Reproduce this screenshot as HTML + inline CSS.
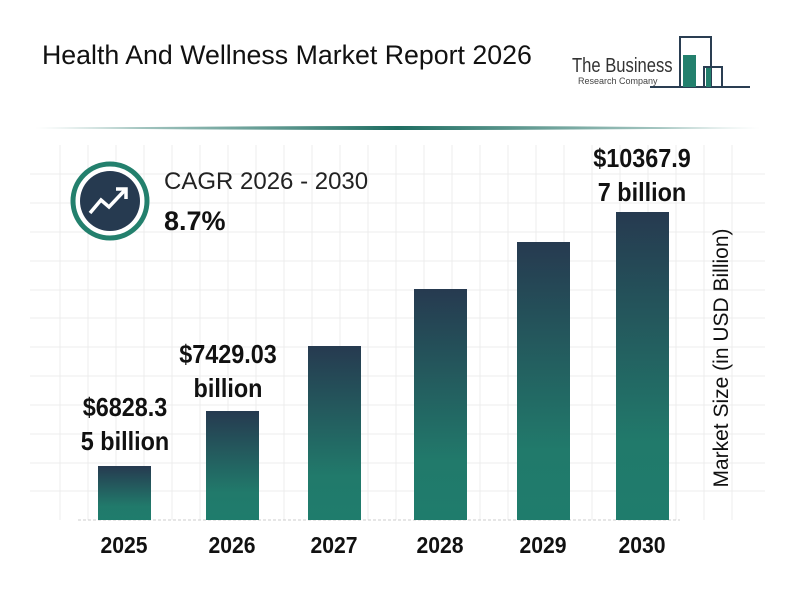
<!DOCTYPE html>
<html><head><meta charset="utf-8"><style>
body{margin:0;background:#fff;width:800px;height:600px;overflow:hidden;position:relative;font-family:"Liberation Sans",sans-serif}
.t{position:absolute;white-space:nowrap}
.bar{position:absolute;width:53px;bottom:80px;background:linear-gradient(#263a50,#217a6b 75%,#1f7c6c)}
.lbl{position:absolute;font-weight:bold;font-size:26px;color:#111;text-align:center;line-height:34px;transform:scaleX(0.9)}
.yr{position:absolute;top:532px;font-weight:bold;font-size:23px;color:#111;width:70px;text-align:center;transform:scaleX(0.92)}
</style></head><body>
<svg width="800" height="600" style="position:absolute;left:0;top:0">
<defs><linearGradient id="hl" x1="0" x2="1"><stop offset="0" stop-color="#2b7a6e" stop-opacity="0.2"/><stop offset="0.5" stop-color="#1f6e62"/><stop offset="1" stop-color="#2b7a6e" stop-opacity="0.2"/></linearGradient></defs>
<path d="M35 128 Q400 124 760 128 Q400 132 35 128Z" fill="url(#hl)"/>
<g stroke="#ececec" stroke-width="1">
<line x1="60" y1="145" x2="60" y2="520"/><line x1="88" y1="145" x2="88" y2="520"/><line x1="116" y1="145" x2="116" y2="520"/><line x1="144" y1="145" x2="144" y2="520"/><line x1="172" y1="145" x2="172" y2="520"/><line x1="200" y1="145" x2="200" y2="520"/><line x1="228" y1="145" x2="228" y2="520"/><line x1="256" y1="145" x2="256" y2="520"/><line x1="284" y1="145" x2="284" y2="520"/><line x1="312" y1="145" x2="312" y2="520"/><line x1="340" y1="145" x2="340" y2="520"/><line x1="368" y1="145" x2="368" y2="520"/><line x1="396" y1="145" x2="396" y2="520"/><line x1="424" y1="145" x2="424" y2="520"/><line x1="452" y1="145" x2="452" y2="520"/><line x1="480" y1="145" x2="480" y2="520"/><line x1="508" y1="145" x2="508" y2="520"/><line x1="536" y1="145" x2="536" y2="520"/><line x1="564" y1="145" x2="564" y2="520"/><line x1="592" y1="145" x2="592" y2="520"/><line x1="620" y1="145" x2="620" y2="520"/><line x1="648" y1="145" x2="648" y2="520"/><line x1="676" y1="145" x2="676" y2="520"/><line x1="704" y1="145" x2="704" y2="520"/><line x1="732" y1="145" x2="732" y2="520"/>
<line x1="30" y1="174" x2="765" y2="174"/><line x1="30" y1="203" x2="765" y2="203"/><line x1="30" y1="232" x2="765" y2="232"/><line x1="30" y1="261" x2="765" y2="261"/><line x1="30" y1="290" x2="765" y2="290"/><line x1="30" y1="318" x2="765" y2="318"/><line x1="30" y1="347" x2="765" y2="347"/><line x1="30" y1="376" x2="765" y2="376"/><line x1="30" y1="405" x2="765" y2="405"/><line x1="30" y1="434" x2="765" y2="434"/><line x1="30" y1="463" x2="765" y2="463"/><line x1="30" y1="491" x2="765" y2="491"/>
</g>
<line x1="78" y1="520" x2="680" y2="520" stroke="#ccc" stroke-dasharray="3,2"/>
<circle cx="110" cy="201" r="37" fill="#fff" stroke="#23806d" stroke-width="5"/>
<circle cx="110" cy="201" r="30" fill="#263a50"/>
<polyline points="90,213 101,200 109,207 125,190" fill="none" stroke="#fff" stroke-width="3.5"/>
<polyline points="116,189 126,189 126,199" fill="none" stroke="#fff" stroke-width="3.5"/>
<g fill="none" stroke="#2a3e52" stroke-width="2">
<polyline points="680,87 680,37 711,37 711,87"/>
<polyline points="704,87 704,67 722,67 722,87 750,87"/>
<line x1="650" y1="87" x2="750" y2="87"/>
</g>
<rect x="683" y="55" width="13" height="32" fill="#23806d"/>
<rect x="706" y="68" width="5" height="19" fill="#23806d"/>
</svg>
<div class="t" style="left:42px;top:40px;font-size:27px;color:#111;transform:scaleX(0.99);transform-origin:left">Health And Wellness Market Report 2026</div>
<div class="t" style="left:572px;top:55px;font-size:20px;color:#333;transform:scaleX(0.83);transform-origin:left">The Business</div>
<div class="t" style="left:578px;top:76px;font-size:9px;color:#444">Research Company</div>
<div class="t" style="left:164px;top:168px;font-size:24px;color:#222">CAGR 2026 - 2030</div>
<div class="t" style="left:164px;top:206px;font-size:27px;font-weight:bold;color:#111">8.7%</div>
<div class="bar" style="left:98px;height:54px"></div>
<div class="bar" style="left:206px;height:109px"></div>
<div class="bar" style="left:308px;height:174px"></div>
<div class="bar" style="left:414px;height:231px"></div>
<div class="bar" style="left:517px;height:278px"></div>
<div class="bar" style="left:616px;height:308px"></div>
<div class="lbl" style="left:55px;top:390px;width:140px">$6828.3<br>5 billion</div>
<div class="lbl" style="left:158px;top:337px;width:140px">$7429.03<br>billion</div>
<div class="lbl" style="left:565px;top:141px;width:154px">$10367.9<br>7 billion</div>
<div class="yr" style="left:89px">2025</div>
<div class="yr" style="left:197px">2026</div>
<div class="yr" style="left:299px">2027</div>
<div class="yr" style="left:405px">2028</div>
<div class="yr" style="left:508px">2029</div>
<div class="yr" style="left:607px">2030</div>
<div class="t" style="left:722px;top:358px;font-size:21px;color:#111;transform:translate(-50%,-50%) rotate(-90deg)">Market Size (in USD Billion)</div>
</body></html>
